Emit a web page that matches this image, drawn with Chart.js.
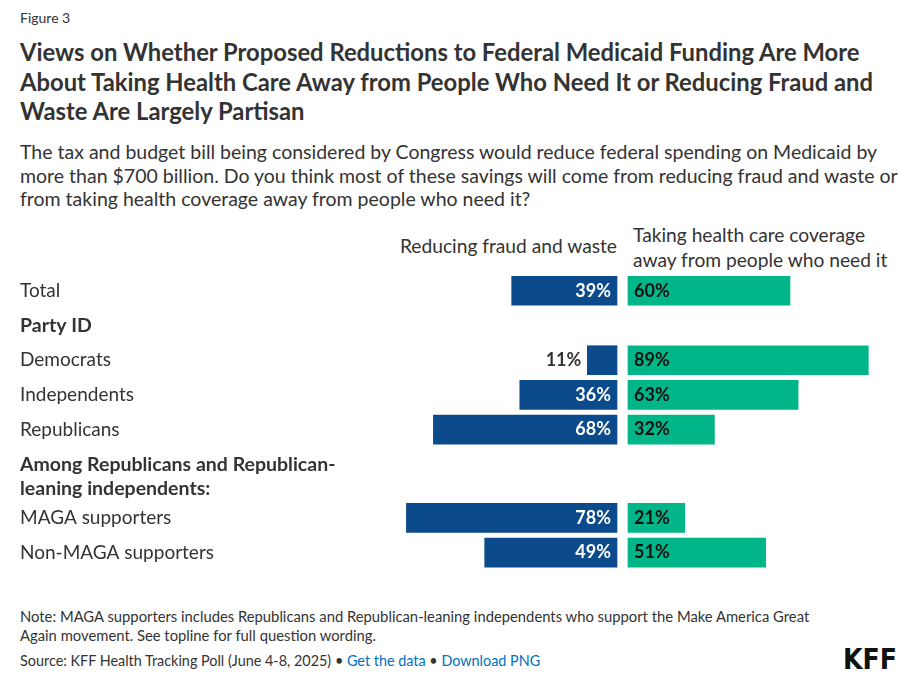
<!DOCTYPE html>
<html>
<head>
<meta charset="utf-8">
<script src="https://cdn.jsdelivr.net/npm/chart.js@4/dist/chart.umd.min.js"></script>
<style>
    body { margin: 0; background: #fff; font-family: Lato, "Noto Sans", sans-serif; color: #333; }
    #page { position: relative; width: 914px; height: 681px; overflow: hidden; }
    .abs { position: absolute; white-space: nowrap; }
    #fig { left: 20px; top: 8px; font-size: 14px; line-height: 20px; color: #333; }
    #title { left: 20px; top: 38px; font-size: 23.8px; line-height: 29.5px; font-weight: 700; color: #333; }
    #sub { left: 20px; top: 140px; font-size: 19.5px; line-height: 23.5px; color: #333; }
    #hdrL { right: 297px; top: 234px; font-size: 19.2px; line-height: 24px; text-align: right; }
    #hdrR { left: 633px; top: 222px; font-size: 19.2px; line-height: 25px; }
    #note { left: 20px; top: 607px; font-size: 14.8px; line-height: 19px; color: #333; }
    #src { left: 20px; top: 651px; font-size: 14.4px; line-height: 20px; color: #333; }
    #src a { color: #0071bc; text-decoration: none; }
    #logo { right: 17px; top: 643px; font-family: "Liberation Sans Narrow", "DejaVu Sans Condensed", sans-serif; font-weight: 700; font-size: 28px; line-height: 34px; color: #111; }
    #chart { position: absolute; left: 0; top: 256px; }
</style>
</head>
<body>
<div id="page">
    <div class="abs" id="fig">Figure 3</div>
    <div class="abs" id="title">Views on Whether Proposed Reductions to Federal Medicaid Funding Are More<br>About Taking Health Care Away from People Who Need It or Reducing Fraud and<br>Waste Are Largely Partisan</div>
    <div class="abs" id="sub">The tax and budget bill being considered by Congress would reduce federal spending on Medicaid by<br>more than $700 billion. Do you think most of these savings will come from reducing fraud and waste or<br>from taking health coverage away from people who need it?</div>
    <div class="abs" id="hdrL">Reducing fraud and waste</div>
    <div class="abs" id="hdrR">Taking health care coverage<br>away from people who need it</div>
    <canvas id="chart" width="914" height="330"></canvas>
    <div class="abs" id="note">Note: MAGA supporters includes Republicans and Republican-leaning independents who support the Make America Great<br>Again movement. See topline for full question wording.</div>
    <div class="abs" id="src">Source: KFF Health Tracking Poll (June 4-8, 2025) • <a href="#">Get the data</a> • <a href="#">Download PNG</a></div>
    <div class="abs" id="logo">KFF</div>
</div>
<script>
// Dados do gráfico
const categories = ['Total', 'Democrats', 'Independents', 'Republicans', 'MAGA supporters', 'Non-MAGA supporters'];
const fraudWaste = [39, 11, 36, 68, 78, 49];
const takingCoverage = [60, 89, 63, 32, 21, 51];
const headings = [['Party ID'], ['Among Republicans and Republican-', 'leaning independents:']];
// ordem das linhas: 'c' = categoria, 'h' = cabeçalho de grupo
const rowOrder = ['c', 'h', 'c', 'c', 'c', 'h', 'c', 'c'];

const BLUE = '#0B4A8B';
const GREEN = '#00B588';
const PX_PER_PCT = 2.7;   // escala horizontal
const ZERO_L = 617;       // fim das barras azuis
const ZERO_R = 628;       // início das barras verdes
const W = 914;

// Calcula a posição vertical de cada linha
const catPos = [];
const headPos = [];
let pos = 0;
let ci = 0, hi = 0;
rowOrder.forEach(kind => {
    if (kind === 'c') {
        catPos[ci++] = pos;
        pos += 1;
    } else {
        const lines = headings[hi];
        headPos[hi++] = pos;
        pos += 1 + (lines.length - 1) * 0.54;
    }
});

const labelPlugin = {
    id: 'labels',
    afterDatasetsDraw(chart) {
        const ctx = chart.ctx;
        const y = chart.scales.y;
        ctx.save();
        ctx.textBaseline = 'middle';
        ctx.textAlign = 'left';
        ctx.fillStyle = '#333';
        // rótulos das categorias
        ctx.font = '19px Lato, "Noto Sans", sans-serif';
        categories.forEach((c, i) => ctx.fillText(c, 20, y.getPixelForValue(catPos[i])));
        // cabeçalhos dos grupos
        ctx.font = 'bold 19.5px Lato, "Noto Sans", sans-serif';
        headings.forEach((lines, i) => {
            lines.forEach((l, k) => ctx.fillText(l, 20, y.getPixelForValue(headPos[i] + k * 0.69)));
        });
        // valores nas barras
        ctx.font = 'bold 18px Lato, "Noto Sans", sans-serif';
        chart.data.datasets.forEach((ds, di) => {
            chart.getDatasetMeta(di).data.forEach((bar, i) => {
                const text = ds.data[i].x + '%';
                const tw = ctx.measureText(text).width;
                if (di === 0) {
                    const len = Math.abs(bar.base - bar.x);
                    ctx.textAlign = 'right';
                    if (len > tw + 12) {
                        ctx.fillStyle = '#fff';
                        ctx.fillText(text, bar.base - 6, bar.y);
                    } else {
                        ctx.fillStyle = '#333';
                        ctx.fillText(text, bar.x - 6, bar.y);
                    }
                } else {
                    ctx.textAlign = 'left';
                    ctx.fillStyle = '#111';
                    ctx.fillText(text, bar.base + 6, bar.y);
                }
            });
        });
        ctx.restore();
    }
};

new Chart(document.getElementById('chart').getContext('2d'), {
    type: 'bar',
    data: {
        datasets: [{
            label: 'Reducing fraud and waste',
            data: fraudWaste.map((v, i) => ({ x: v, y: catPos[i] })),
            backgroundColor: BLUE,
            xAxisID: 'xL',
            barThickness: 29,
            grouped: false
        }, {
            label: 'Taking health care coverage away from people who need it',
            data: takingCoverage.map((v, i) => ({ x: v, y: catPos[i] })),
            backgroundColor: GREEN,
            xAxisID: 'xR',
            barThickness: 29,
            grouped: false
        }]
    },
    options: {
        indexAxis: 'y',
        responsive: false,
        animation: false,
        layout: { padding: 0 },
        scales: {
            y: { type: 'linear', reverse: true, offset: false, min: -1, max: 8.5, display: false },
            xL: { type: 'linear', reverse: true, min: -(W - ZERO_L) / PX_PER_PCT, max: ZERO_L / PX_PER_PCT, display: false },
            xR: { type: 'linear', min: -ZERO_R / PX_PER_PCT, max: (W - ZERO_R) / PX_PER_PCT, display: false }
        },
        plugins: {
            legend: { display: false },
            tooltip: { enabled: false }
        }
    },
    plugins: [labelPlugin]
});
</script>
</body>
</html>
